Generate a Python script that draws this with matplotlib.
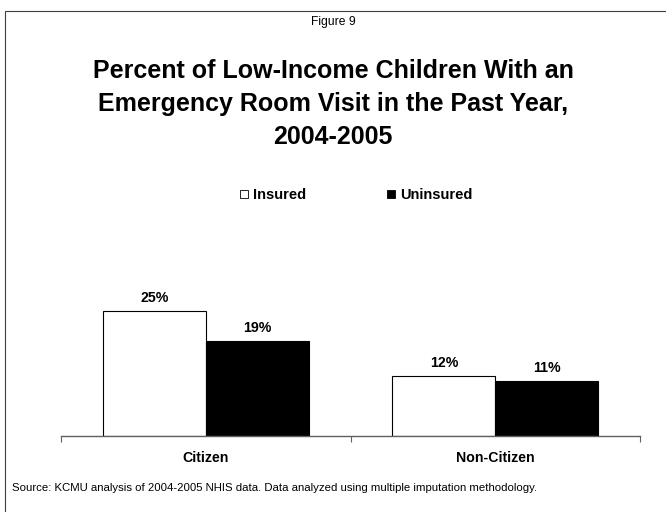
import numpy as np
import matplotlib.pyplot as plt
from matplotlib.patches import Rectangle

plt.rcParams['font.family'] = ['Liberation Sans', 'DejaVu Sans']

categories = ["Citizen", "Non-Citizen"]
series = ["Insured", "Uninsured"]
insured = [25, 12]
uninsured = [19, 11]
colors = ["white", "black"]

W, H = 666, 512
fig = plt.figure(figsize=(W / 100, H / 100), dpi=100)

# thin frame round the slide
fig.patches.append(Rectangle((5 / W, -0.05), 1.0, 1 - 11 / H + 0.05,
                             transform=fig.transFigure, fill=False,
                             edgecolor="#404040", linewidth=0.8))

ax = fig.add_axes([61 / W, (H - 436) / H, (640 - 61) / W, 150 / H])
x = np.arange(len(categories))
bw = 0.355
ax.bar(x - bw / 2, insured, bw, color=colors[0], edgecolor="black", linewidth=0.8)
ax.bar(x + bw / 2, uninsured, bw, color=colors[1], edgecolor="black", linewidth=0.8)

for xi, v in zip(x - bw / 2, insured):
    ax.text(xi, v + 1.2, f"{v}%", ha="center", va="bottom",
            fontsize=10.2, fontweight="bold")
for xi, v in zip(x + bw / 2, uninsured):
    ax.text(xi, v + 1.2, f"{v}%", ha="center", va="bottom",
            fontsize=10.2, fontweight="bold")

ax.set_xlim(-0.5, 1.5)
ax.set_ylim(0, 30)
for s in ["top", "right", "left"]:
    ax.spines[s].set_visible(False)
ax.spines["bottom"].set_color("#606060")
ax.spines["bottom"].set_linewidth(1.0)
ax.set_yticks([])
ax.set_xticks([-0.5, 0.5, 1.5])
ax.set_xticklabels([])
ax.tick_params(axis="x", length=4, color="#606060", direction="out")
for xi, c in zip(x, categories):
    ax.text(xi, -4.4, c, ha="center", va="center", fontsize=10.2,
            fontweight="bold")

fig.text(333 / W, 1 - 22 / H, "Figure 9", ha="center", va="center", fontsize=8.7)
fig.text(333 / W, 1 - 104 / H,
         "Percent of Low-Income Children With an\n"
         "Emergency Room Visit in the Past Year,\n2004-2005",
         ha="center", va="center", fontsize=18, fontweight="bold",
         linespacing=1.46)

# legend drawn by hand: square + label
for lx, lab, col in zip([240, 387], series, colors):
    fig.patches.append(Rectangle((lx / W, 1 - 198 / H), 8 / W, 8 / H,
                                 transform=fig.transFigure, facecolor=col,
                                 edgecolor="black", linewidth=0.6))
    fig.text((lx + 13) / W, 1 - 195 / H, lab, ha="left", va="center",
             fontsize=10.5, fontweight="bold")

fig.text(12 / W, 1 - 488 / H,
         "Source: KCMU analysis of 2004-2005 NHIS data. Data analyzed using "
         "multiple imputation methodology.",
         ha="left", va="center", fontsize=8.2)

fig.savefig("out.png", dpi=100)
